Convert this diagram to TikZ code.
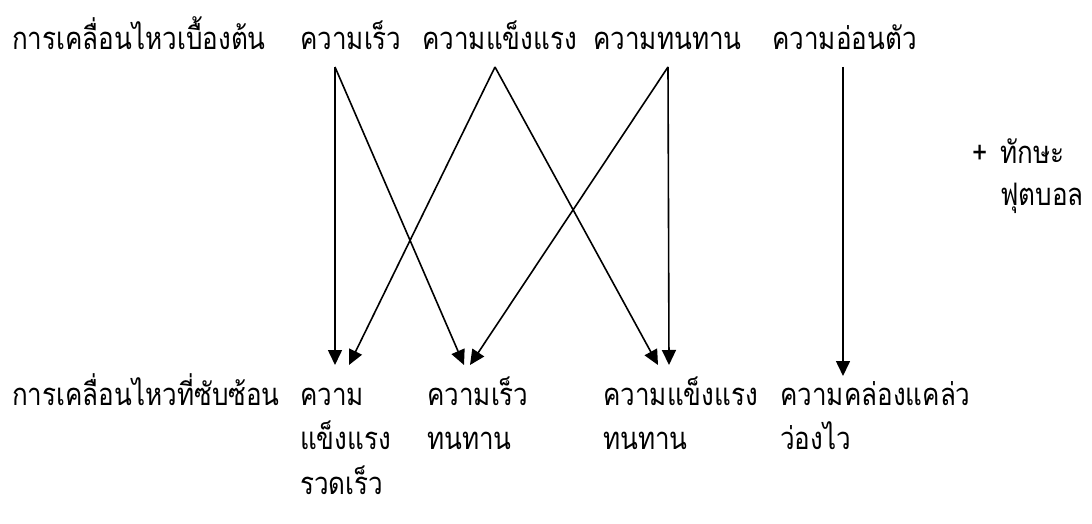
\documentclass[tikz,border=0pt]{standalone}
\usepackage{fontspec}
\newfontfamily\thaifont[Script=Thai,FakeStretch=0.84]{Loma}
\usetikzlibrary{arrows.meta}
\begin{document}
\begin{tikzpicture}[x=1pt,y=-1pt,
  lbl/.style={anchor=base west,inner sep=0pt,font=\thaifont\fontsize{31}{36}\selectfont},
  conn/.style={line width=1.6pt,-{Triangle[length=15pt,width=14pt]}}]
\useasboundingbox (0,0) rectangle (1092,524);
% top row
\node[lbl] (basic) at (12,50) {การเคลื่อนไหวเบื้องต้น};
\node[lbl] (speed) at (300,50) {ความเร็ว};
\node[lbl] (strength) at (422,50) {ความแข็งแรง};
\node[lbl] (endur) at (593,50) {ความทนทาน};
\node[lbl] (flex) at (772,50) {ความอ่อนตัว};
% right
\node[lbl] (skill) at (972,163) {+\hskip 13pt ทักษะ};
\node[lbl] (football) at (1000,205) {ฟุตบอล};
% bottom row
\node[lbl] (complex) at (12,405) {การเคลื่อนไหวที่ซับซ้อน};
\node[lbl] (c1a) at (300,405) {ความ};
\node[lbl] (c1b) at (300,449) {แข็งแรง};
\node[lbl] (c1c) at (300,494) {รวดเร็ว};
\node[lbl] (c2a) at (427,405) {ความเร็ว};
\node[lbl] (c2b) at (427,449) {ทนทาน};
\node[lbl] (c3a) at (603,405) {ความแข็งแรง};
\node[lbl] (c3b) at (603,449) {ทนทาน};
\node[lbl] (c4a) at (780,405) {ความคล่องแคล่ว};
\node[lbl] (c4b) at (780,449) {ว่องไว};
% connector ends
\coordinate (sS) at (335,67);
\coordinate (sT) at (495,67);
\coordinate (sE) at (668,67);
\coordinate (sF) at (843,67);
\coordinate (e1a) at (335,365);
\coordinate (e1b) at (349,365);
\coordinate (e2a) at (464,365);
\coordinate (e2b) at (470,365);
\coordinate (e3a) at (658,365);
\coordinate (e3b) at (669,365);
\coordinate (e4) at (843,376);
\draw[conn] (sS) -- (e1a);
\draw[conn] (sS) -- (e2a);
\draw[conn] (sT) -- (e1b);
\draw[conn] (sT) -- (e3a);
\draw[conn] (sE) -- (e2b);
\draw[conn] (sE) -- (e3b);
\draw[conn] (sF) -- (e4);
\end{tikzpicture}
\end{document}
